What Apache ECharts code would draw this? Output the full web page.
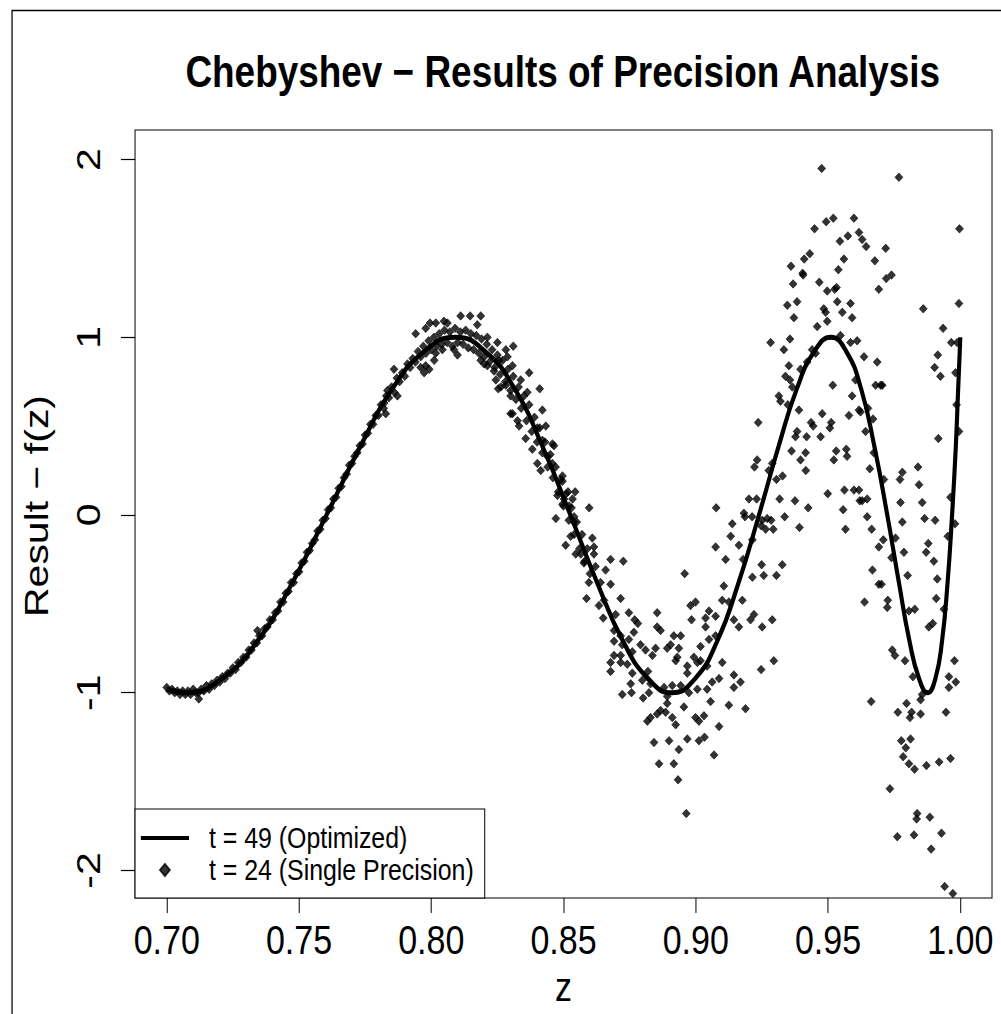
<!DOCTYPE html>
<html>
<head>
<meta charset="utf-8">
<script src="https://cdn.jsdelivr.net/npm/echarts@6/dist/echarts.min.js"></script>
<style>
  html, body { margin: 0; padding: 0; background: #fff; overflow: hidden; }
  #frame { position: absolute; left: 0; top: 0; width: 1001px; height: 1014px; overflow: hidden; background: #fff; }
  /* the figure is laid out on a wider canvas and squeezed horizontally */
  #chart { position: absolute; left: 0; top: 0; width: 1206px; height: 1014px;
           transform: scaleX(0.83); transform-origin: 0 0; }
</style>
</head>
<body>
<div id="frame"><div id="chart"></div></div>
<script>
// axis ticks
const xTicks = [0.70, 0.75, 0.80, 0.85, 0.90, 0.95, 1.00];
const yTicks = [-2, -1, 0, 1, 2];

// t = 49 (Optimized) curve
const curveZ = [0.7, 0.7071, 0.7209, 0.7343, 0.7475, 0.7604, 0.7730, 0.7853, 0.7973, 0.8090,
  0.8204, 0.8315, 0.8422, 0.8526, 0.8627, 0.8725, 0.8819, 0.8910, 0.8998, 0.9081,
  0.9162, 0.9239, 0.9312, 0.9382, 0.9448, 0.9511, 0.9569, 0.9625, 0.9676, 0.9724,
  0.9768, 0.9808, 0.9844, 0.9877, 0.9906, 0.9931, 0.9952, 0.9969, 0.9983, 0.9992,
  0.9998, 1.0];
const curveF = [-0.98, -1, -0.92, -0.71, -0.38, 0, 0.38, 0.71, 0.92, 1,
  0.92, 0.71, 0.38, 0, -0.38, -0.71, -0.92, -1, -0.92, -0.71,
  -0.38, 0, 0.38, 0.71, 0.92, 1, 0.92, 0.71, 0.38, 0,
  -0.38, -0.71, -0.92, -1, -0.92, -0.71, -0.38, 0, 0.38, 0.71,
  0.92, 1];

// t = 24 (Single Precision) results, [z, value]
const singleStart = [
  [0.700,-0.97],[0.701,-0.99],[0.702,-0.98],[0.703,-1.00],[0.704,-0.99],[0.705,-1.01],[0.706,-0.99],
  [0.707,-1.01],[0.708,-0.99],[0.709,-1.01],[0.710,-0.98],[0.711,-1.00],[0.712,-1.00],[0.713,-0.98],
  [0.714,-0.99],[0.715,-0.96],[0.716,-0.98],[0.717,-0.95],[0.718,-0.96],[0.719,-0.93],[0.720,-0.94],
  [0.721,-0.91],[0.722,-0.92],[0.723,-0.89],[0.724,-0.89],[0.725,-0.86],[0.726,-0.87],[0.727,-0.83],
  [0.728,-0.83],[0.729,-0.80],[0.730,-0.80],[0.731,-0.76],[0.732,-0.76],[0.733,-0.72],[0.734,-0.72],
  [0.735,-0.68],[0.736,-0.68],[0.737,-0.64],[0.738,-0.63],[0.739,-0.59],[0.740,-0.59],[0.741,-0.55],
  [0.742,-0.54],[0.743,-0.49],[0.744,-0.49],[0.745,-0.44],[0.746,-0.43],[0.747,-0.38],[0.748,-0.38],
  [0.749,-0.33],[0.750,-0.32],[0.751,-0.27],[0.752,-0.26],[0.753,-0.21],[0.754,-0.20],[0.755,-0.16],
  [0.756,-0.14],[0.757,-0.09],[0.758,-0.08],[0.759,-0.03],[0.760,-0.02],[0.761,0.03],[0.762,0.04],
  [0.763,0.09],[0.764,0.10],[0.765,0.15],[0.766,0.16],[0.767,0.21],[0.768,0.23],[0.769,0.28],
  [0.770,0.29],[0.771,0.33],[0.772,0.35],[0.773,0.39],[0.774,0.40],[0.775,0.45],[0.776,0.46],
  [0.777,0.51],[0.778,0.51],[0.779,0.56],[0.780,0.56],[0.7121,-1.035],[0.7343,-0.65]
];
const singlePeak = [
  [0.781,0.62],[0.782,0.60],[0.783,0.67],[0.784,0.66],[0.785,0.72],[0.786,0.69],[0.787,0.77],
  [0.788,0.75],[0.789,0.80],[0.790,0.78],[0.791,0.85],[0.792,0.83],[0.793,0.88],[0.794,0.86],
  [0.795,0.92],[0.796,0.89],[0.797,0.95],[0.798,0.91],[0.799,0.98],[0.800,0.93],[0.801,1.00],
  [0.802,0.95],[0.803,1.02],[0.804,0.96],[0.805,1.04],[0.806,0.97],[0.807,1.03],[0.808,0.95],
  [0.809,1.05],[0.810,0.97],[0.811,1.03],[0.812,0.96],[0.813,1.04],[0.814,0.94],[0.815,1.02],
  [0.816,0.93],[0.817,1.01],[0.818,0.91],[0.819,0.99],[0.820,0.89],[0.821,0.96],[0.822,0.86],
  [0.823,0.93],[0.824,0.83],[0.825,0.90],[0.826,0.79],[0.827,0.87],[0.828,0.75],[0.829,0.82],
  [0.830,0.70],[0.831,0.78],[0.832,0.65],[0.833,0.72],[0.834,0.60],[0.835,0.67],[0.836,0.53],
  [0.837,0.62],[0.838,0.47],[0.839,0.55],[0.840,0.41],[0.841,0.49],[0.842,0.35],[0.843,0.41],
  [0.844,0.27],[0.845,0.34],[0.846,0.21],[0.847,0.27],[0.848,0.13],[0.849,0.20],[0.850,0.05],
  [0.851,0.12],[0.852,-0.03],[0.853,0.04],[0.854,-0.11],[0.855,-0.04],[0.856,-0.19],[0.857,-0.11],
  [0.858,-0.26],[0.859,-0.19],[0.860,-0.33],
  [0.8111,1.12],[0.8147,1.12],[0.8187,1.12],[0.7995,1.08],[0.8017,1.08],[0.8048,1.09],[0.8061,1.08],
  [0.7941,1.02],[0.7979,1.05],[0.8174,1.07],[0.8212,1.00],[0.8310,0.95],[0.8250,0.97],[0.8282,0.93],
  [0.8288,0.89],[0.8307,0.84],[0.8256,0.87],[0.8370,0.80],[0.8410,0.71],[0.8338,0.76],[0.8363,0.69],
  [0.8420,0.59],[0.8307,0.57],[0.8332,0.50],[0.8357,0.43],[0.8382,0.37],[0.8401,0.29],[0.8414,0.25],
  [0.8464,0.39],[0.8439,0.33],[0.8458,0.29],[0.8496,0.22],[0.8496,0.19],[0.8099,0.90],[0.8086,0.93],
  [0.8042,0.93],[0.8011,0.87],[0.7992,0.82],[0.7973,0.80],[0.7960,0.83],[0.7979,0.84],[0.8017,0.91],
  [0.7859,0.82],[0.7872,0.67],[0.7828,0.57],[0.7822,0.63],[0.7834,0.70],[0.8187,0.87],[0.8200,0.85],
  [0.8212,0.84],[0.8237,0.81],[0.8244,0.76],[0.8253,0.71],[0.8263,0.72],[0.8282,0.73],[0.8300,0.57],
  [0.8326,0.53],[0.8401,0.49],[0.8433,0.50],[0.8420,0.42],[0.8458,0.40],[0.8300,0.67],
  [0.8517,0.13],[0.8544,0.13],[0.8534,0.09],[0.8496,0.06],[0.8471,-0.02],[0.8597,0.04],
  [0.8477,0.11],[0.8502,0.09],[0.8521,0.05],[0.8540,-0.01]
];
const singleTrough = [
  [0.8539,-0.04],[0.8527,-0.12],[0.8508,-0.17],[0.8609,-0.13],[0.8615,-0.18],[0.9138,-0.05],
  [0.9132,-0.12],[0.9075,-0.18],[0.9163,-0.17],[0.9214,-0.14],[0.8546,-0.22],[0.8565,-0.22],
  [0.8615,-0.22],[0.8577,-0.27],[0.8621,-0.29],[0.8678,-0.25],[0.8726,-0.26],[0.8659,-0.31],
  [0.8958,-0.33],[0.9113,-0.25],[0.9179,-0.25],[0.9214,-0.35],[0.8596,-0.38],[0.8640,-0.38],
  [0.8678,-0.39],[0.8587,-0.47],[0.8634,-0.51],[0.8716,-0.47],[0.8653,-0.48],[0.9106,-0.40],
  [0.9100,-0.48],[0.9125,-0.49],[0.9176,-0.48],[0.8999,-0.49],[0.8980,-0.51],[0.8650,-0.58],
  [0.8697,-0.56],[0.8747,-0.55],[0.8854,-0.55],[0.9050,-0.54],[0.9075,-0.57],[0.9220,-0.56],
  [0.8984,-0.59],[0.9037,-0.58],[0.9144,-0.59],[0.8781,-0.61],[0.8769,-0.59],[0.8691,-0.65],
  [0.8716,-0.68],[0.8854,-0.63],[0.8867,-0.65],[0.8917,-0.68],[0.8943,-0.68],[0.9037,-0.63],
  [0.9075,-0.68],[0.9163,-0.63],[0.9207,-0.59],[0.8766,-0.66],[0.8691,-0.71],[0.8747,-0.70],
  [0.8722,-0.73],[0.8791,-0.73],[0.8760,-0.77],[0.8810,-0.76],[0.8848,-0.75],[0.8892,-0.75],
  [0.8905,-0.73],[0.8936,-0.75],[0.9018,-0.74],[0.9050,-0.70],[0.8691,-0.79],[0.8716,-0.79],
  [0.8836,-0.79],[0.8924,-0.82],[0.8930,-0.80],[0.8993,-0.80],[0.9006,-0.83],[0.8716,-0.83],
  [0.8741,-0.84],[0.8678,-0.83],[0.8968,-0.85],[0.9018,-0.82],[0.9043,-0.85],[0.9100,-0.83],
  [0.8678,-0.88],[0.8760,-0.89],[0.8819,-0.88],[0.8829,-0.95],[0.8798,-0.93],[0.8968,-0.89],
  [0.9062,-0.94],[0.9088,-0.92],[0.9144,-0.90],[0.9169,-0.94],[0.8754,-0.95],[0.8722,-1.01],
  [0.8757,-1.00],[0.8801,-1.03],[0.8823,-1.00],[0.8880,-0.97],[0.8911,-0.96],[0.8943,-0.96],
  [0.8974,-1.00],[0.9043,-0.98],[0.9144,-0.97],[0.8892,-1.02],[0.8892,-1.06],[0.9006,-0.98],
  [0.9056,-1.05],[0.9125,-1.07],[0.9188,-1.09],[0.8955,-1.08],[0.8867,-1.10],[0.8854,-1.12],
  [0.8817,-1.16],[0.8829,-1.14],[0.8886,-1.11],[0.8911,-1.14],[0.8924,-1.18],[0.8999,-1.14],
  [0.9031,-1.13],[0.9012,-1.16],[0.9088,-1.19],[0.8842,-1.28],[0.8899,-1.27],[0.8968,-1.26],
  [0.9012,-1.27],[0.9033,-1.25],[0.8936,-1.32],[0.9069,-1.35],[0.8861,-1.40],[0.8917,-1.40],
  [0.8933,-1.49],[0.8964,-1.68]
];
const singleRise = [
  [0.9346,1.18],[0.9383,1.20],[0.9371,1.11],[0.9484,1.16],[0.9491,1.14],[0.9535,1.20],[0.9585,1.19],
  [0.9554,1.14],[0.9591,1.11],[0.9459,1.06],[0.9497,1.09],[0.9283,0.97],[0.9356,0.99],[0.9333,0.93],
  [0.9547,1.01],[0.9440,0.93],[0.9453,0.91],[0.9585,0.97],[0.9610,0.98],[0.9421,0.86],[0.9396,0.82],
  [0.9352,0.84],[0.9339,0.78],[0.9356,0.76],[0.9604,0.76],[0.9518,0.73],[0.9591,0.67],[0.9617,0.59],
  [0.9579,0.56],[0.9314,0.67],[0.9320,0.64],[0.9365,0.72],[0.9348,0.62],[0.9390,0.59],[0.9478,0.57],
  [0.9436,0.52],[0.9444,0.50],[0.9512,0.52],[0.9507,0.49],[0.9236,0.52],[0.9383,0.47],[0.9377,0.44],
  [0.9419,0.44],[0.9472,0.44],[0.9362,0.36],[0.9415,0.35],[0.9396,0.31],[0.9416,0.25],[0.9531,0.36],
  [0.9522,0.31],[0.9569,0.37],[0.9572,0.33],[0.9232,0.31],[0.9222,0.27],[0.9289,0.29],[0.9276,0.25],
  [0.9305,0.20],[0.9328,0.22],[0.9317,0.09],[0.9375,0.08],[0.9425,0.04],[0.9336,-0.01],[0.9392,-0.07],
  [0.9499,0.12],[0.9562,0.14],[0.9598,0.14],[0.9617,0.14],[0.9620,0.08],[0.9557,0.03],[0.9566,-0.08],
  [0.9201,0.09],[0.9230,0.09],[0.9182,0.01],[0.9186,-0.01],[0.9213,-0.01],[0.9251,-0.03],[0.9270,-0.02],
  [0.9285,-0.03],[0.9247,-0.06],[0.9264,-0.08],[0.9293,-0.08],[0.9077,0.04],[0.9327,-0.28],[0.9249,-0.28],
  [0.9257,-0.34],[0.9305,-0.34],[0.9251,-0.63],[0.9289,-0.59],[0.9295,-0.82],[0.9247,-0.87]
];
const singleCrest = [
  [0.9476,1.95],[0.9493,1.65],[0.9520,1.67],[0.9598,1.67],[0.9449,1.61],[0.9575,1.57],[0.9617,1.59],
  [0.9629,1.55],[0.9545,1.54],[0.9644,1.51],[0.9431,1.47],[0.9410,1.44],[0.9560,1.44],[0.9677,1.43],
  [0.9360,1.40],[0.9404,1.36],[0.9406,1.35],[0.9539,1.38],[0.9368,1.30],[0.9467,1.31],[0.9692,1.27],
  [0.9497,1.26],[0.9525,1.27],[0.9532,1.28],[0.9636,0.89],[0.9686,0.86]
];
const singleEdgeHigh = [
  [0.9768,1.90],[0.9718,1.50],[0.9740,1.35],[0.9720,1.33],[0.9997,1.61],[0.9995,1.19],[0.9860,1.16],
  [0.9935,1.05],[0.9966,0.97],[0.9988,0.97],[0.9915,0.90],[0.9903,0.83],[0.9925,0.78],[0.9982,0.80],
  [0.9680,0.73],[0.9699,0.73],[0.9705,0.73],[0.9651,0.60],[0.9670,0.54],[0.9623,0.58],[0.9642,0.47],
  [0.9917,0.43],[0.9673,0.35],[0.9658,0.26],[0.9711,0.20],[0.9772,0.20],[0.9781,0.24],[0.9840,0.27],
  [0.9844,0.17],[0.9648,0.09],[0.9995,0.47],[0.9986,0.62]
];
const singleEdgeLow = [
  [0.9629,0.08],[0.9774,0.07],[0.9856,0.07],[0.9781,-0.04],[0.9865,-0.02],[0.9905,-0.03],[0.9665,-0.08],
  [0.9648,-0.01],[0.9709,-0.14],[0.9692,-0.18],[0.9755,-0.13],[0.9740,-0.24],[0.9787,-0.21],[0.9879,-0.16],
  [0.9871,-0.21],[0.9900,-0.26],[0.9953,-0.12],[0.9913,-0.36],[0.9801,-0.34],[0.9668,-0.31],[0.9692,-0.39],
  [0.9702,-0.39],[0.9638,-0.49],[0.9726,-0.48],[0.9724,-0.52],[0.9806,-0.54],[0.9828,-0.53],[0.9909,-0.47],
  [0.9881,-0.63],[0.9896,-0.61],[0.9743,-0.76],[0.9753,-0.79],[0.9791,-0.82],[0.9821,-0.91],[0.9978,-0.82],
  [0.9957,-0.91],[0.9983,-0.94],[0.9957,-0.97],[0.9856,-1.01],[0.9850,-1.04],[0.9663,-1.05],[0.9797,-1.06],
  [0.9764,-1.11],[0.9816,-1.11],[0.9810,-1.14],[0.9850,-1.12],[0.9946,-1.11],[0.9777,-1.27],[0.9812,-1.26],
  [0.9794,-1.31],[0.9784,-1.36],[0.9806,-1.40],[0.9827,-1.43],[0.9872,-1.41],[0.9920,-1.39],[0.9963,-1.37],
  [0.9734,-1.54],[0.9837,-1.68],[0.9835,-1.71],[0.9885,-1.70],[0.9825,-1.80],[0.9929,-1.79],[0.9762,-1.81],
  [0.9890,-1.88],[0.9941,-2.09],[0.9972,-2.13],[0.9963,0.10],[0.9980,-0.05],[0.9938,-0.53]
];

const singlePoints = [].concat(singleStart, singlePeak, singleTrough, singleRise,
  singleCrest, singleEdgeHigh, singleEdgeLow);
const curvePoints = curveZ.map((z, i) => [z, curveF[i]]);

const FONT = '"Liberation Sans", Arial, Helvetica, sans-serif';
// legend glyphs: a thick stroke and a small diamond, both in a 58x12 box
const LINE_ICON = 'path://M0,0 M58,12 M0,4 L58,4 L58,8 L0,8 Z';
const DIAMOND_ICON = 'path://M0,0 M58,12 M29,0 L35,6 L29,12 L23,6 Z';

const chart = echarts.init(document.getElementById('chart'), null, { renderer: 'svg' });

chart.setOption({
  animation: false,
  backgroundColor: '#fff',
  textStyle: { fontFamily: FONT, color: '#000' },
  grid: {
    left: 162.7, right: 10.8, top: 130, bottom: 116,
    outerBoundsMode: 'none', containLabel: false,
    show: true, borderColor: '#000', borderWidth: 1.2, backgroundColor: 'transparent'
  },
  graphic: [
    { type: 'rect', left: 12, top: 8, shape: { width: 1400, height: 1200 },
      style: { fill: 'none', stroke: '#000', lineWidth: 1.5 }, silent: true, z: 0 },
    { type: 'text', x: 678, y: 72, z: 10,
      style: { text: 'Chebyshev − Results of Precision Analysis', fill: '#000',
               font: 'bold 44.5px ' + FONT, align: 'center', verticalAlign: 'middle' } }
  ],
  xAxis: {
    type: 'value', min: 0.688, max: 1.012,
    name: 'z', nameLocation: 'middle', nameGap: 74,
    nameTextStyle: { fontSize: 41, lineHeight: 30, color: '#000', fontFamily: FONT },
    axisLine: { show: false, onZero: false },
    axisTick: { show: true, inside: false, length: 15, customValues: xTicks,
                lineStyle: { color: '#000', width: 1.2 } },
    axisLabel: { show: true, customValues: xTicks, margin: 21, fontSize: 41, color: '#000',
                 fontFamily: FONT, formatter: v => v.toFixed(2) },
    splitLine: { show: false }
  },
  yAxis: {
    type: 'value', min: -2.155, max: 2.166,
    name: 'Result − f(z)', nameLocation: 'middle', nameGap: 98, nameRotate: 90,
    nameTextStyle: { fontSize: 41, color: '#000', fontFamily: FONT, padding: [0, 0, 0, 16] },
    axisLine: { show: false, onZero: false },
    axisTick: { show: true, inside: false, length: 17, customValues: yTicks,
                lineStyle: { color: '#000', width: 1.2 } },
    axisLabel: { show: true, customValues: yTicks, margin: 36, rotate: 90, fontSize: 41,
                 color: '#000', fontFamily: FONT, formatter: v => String(v) },
    splitLine: { show: false }
  },
  legend: {
    orient: 'vertical', left: 162.7, top: 809,
    padding: [14, 13, 13, 6], itemGap: 2,
    itemWidth: 58, itemHeight: 12,
    borderColor: '#000', borderWidth: 1.2, backgroundColor: '#fff',
    textStyle: { fontSize: 30, color: '#000', fontFamily: FONT, padding: [0, 0, 0, 19] },
    data: [
      { name: 't = 49 (Optimized)', icon: LINE_ICON, itemStyle: { color: '#000' } },
      { name: 't = 24 (Single Precision)', icon: DIAMOND_ICON, itemStyle: { color: '#000' } }
    ]
  },
  series: [
    {
      name: 't = 24 (Single Precision)', type: 'scatter', data: singlePoints,
      symbol: 'diamond', symbolSize: [9.5, 8.5],
      itemStyle: { color: '#000', borderColor: '#000', borderWidth: 0.8 }, z: 2
    },
    {
      name: 't = 49 (Optimized)', type: 'line', data: curvePoints, smooth: true,
      symbol: 'none', itemStyle: { color: '#000' },
      lineStyle: { color: '#000', width: 5 }, z: 3
    }
  ]
});
</script>
</body>
</html>
